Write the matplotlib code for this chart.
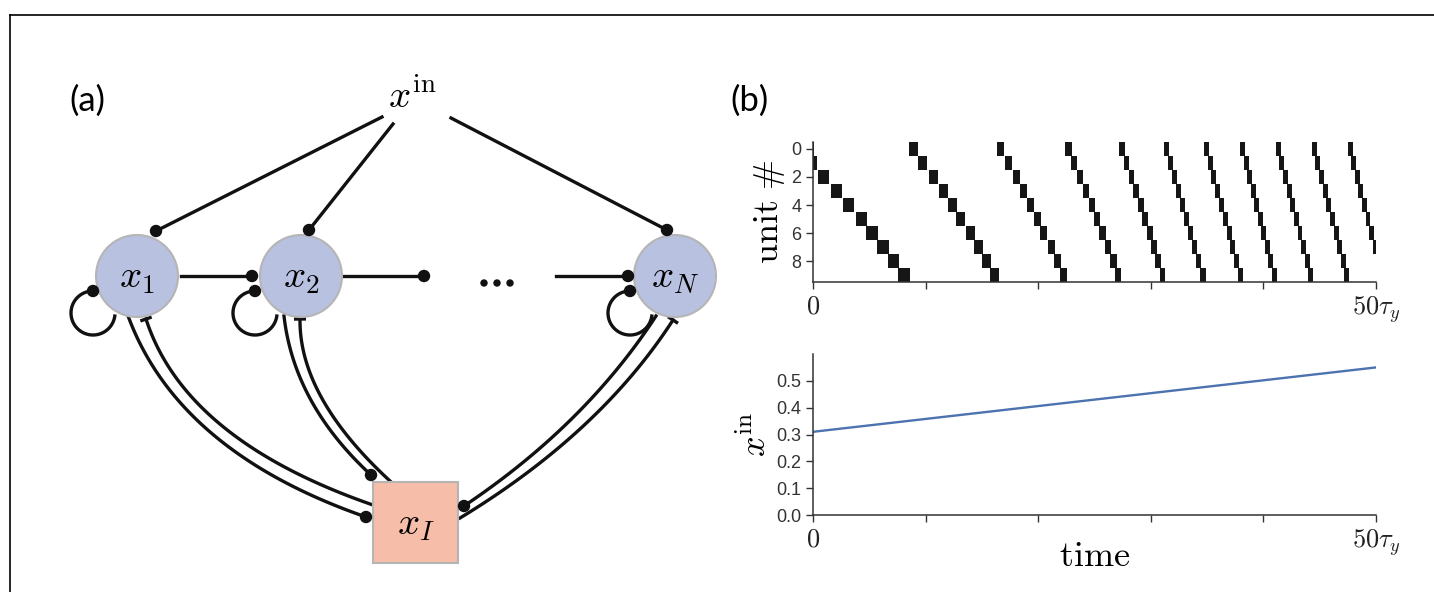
import numpy as np
import matplotlib
matplotlib.use("Agg")
import matplotlib.pyplot as plt
from matplotlib.patches import Circle, Rectangle

plt.rcParams['font.family'] = ['Liberation Sans', 'DejaVu Sans']
plt.rcParams['mathtext.fontset'] = 'cm'

# ---- panel (b) data: raster of sequential activity (onset per unit, per wave)
units = list(range(10))
wave_onsets = [
    [-0.95, -0.62, 0.44, 1.57, 2.66, 3.79, 4.74, 5.71, 6.66, 7.58],
    [8.52, 9.35, 10.29, 11.18, 12.01, 12.72, 13.55, 14.29, 15.03, 15.71],
    [16.36, 17.01, 17.72, 18.37, 19.02, 19.61, 20.20, 20.85, 21.38, 21.92],
    [22.42, 22.93, 23.46, 23.99, 24.49, 24.98, 25.44, 25.91, 26.42, 26.80],
    [27.21, 27.60, 28.04, 28.43, 28.87, 29.23, 29.67, 30.05, 30.41, 30.79],
    [31.15, 31.53, 31.89, 32.24, 32.57, 32.92, 33.28, 33.66, 34.02, 34.40],
    [34.70, 35.04, 35.38, 35.72, 36.06, 36.40, 36.73, 37.07, 37.41, 37.75],
    [37.95, 38.26, 38.57, 38.88, 39.20, 39.51, 39.82, 40.14, 40.45, 40.76],
    [41.10, 41.42, 41.74, 42.07, 42.39, 42.71, 43.03, 43.36, 43.68, 44.00],
    [44.30, 44.62, 44.94, 45.27, 45.59, 45.91, 46.23, 46.56, 46.88, 47.20],
    [47.50, 47.81, 48.13, 48.44, 48.76, 49.07, 49.39, 49.70],
]
wave_widths = [1.0, 0.8, 0.62, 0.55, 0.5, 0.46, 0.44, 0.44, 0.44, 0.44, 0.42]

# input drive over time
time_pts = [0, 10, 20, 30, 40, 50]
x_in = [0.31, 0.358, 0.406, 0.454, 0.502, 0.55]

xtick_pos = [0, 10, 20, 30, 40, 50]
xtick_lab = ['$0$', '', '', '', '', r'$50\tau_y$']

# ---- panel (a) diagram layout (pixel coordinates)
node_xy = {'x1': (137, 276), 'x2': (301, 276), 'xN': (675, 276)}
node_r = 41
node_lab = {'x1': '$x_1$', 'x2': '$x_2$', 'xN': '$x_N$'}
inh_box = (373, 482, 85, 81)

W, H = 1434, 592
fig = plt.figure(figsize=(W / 100, H / 100), dpi=100)

ax0 = fig.add_axes([0, 0, 1, 1])
ax0.set_xlim(0, W)
ax0.set_ylim(H, 0)
ax0.axis('off')

lw = 2.4
col = '#111111'


def dot(x, y, r=5.5):
    ax0.add_patch(Circle((x, y), r, color=col, zorder=5))


def bez(p0, c, p2, n=80):
    t = np.linspace(0, 1, n)[:, None]
    p0, c, p2 = map(np.array, (p0, c, p2))
    return (1 - t) ** 2 * p0 + 2 * (1 - t) * t * c + t ** 2 * p2


def tbar(p, q, half=6):
    # bar at p perpendicular to direction q->p
    d = np.array(p) - np.array(q)
    d = d / np.hypot(*d)
    n = np.array([-d[1], d[0]])
    a = np.array(p) + n * half
    b = np.array(p) - n * half
    ax0.plot([a[0], b[0]], [a[1], b[1]], color=col, lw=lw, solid_capstyle='butt')


# border
ax0.plot([10, W], [15, 15], color='k', lw=1.2)
ax0.plot([10, 10], [15, H], color='k', lw=1.2)

ax0.text(87, 101, '(a)', fontsize=25, family='Lato', ha='center', va='center')
ax0.text(750, 101, '(b)', fontsize=25, family='Lato', ha='center', va='center')

# input node
ax0.text(412, 97, r'$x^{\mathrm{in}}$', fontsize=28, ha='center', va='center')
for s, e in [((382, 117), (156, 231)), ((393, 124), (309, 230)), ((451, 118), (667, 230))]:
    ax0.plot([s[0], e[0]], [s[1], e[1]], color=col, lw=lw)
    dot(*e)

# chain
for s, e in [((181, 276), (252, 276)), ((344, 276), (424, 276)), ((556, 276), (628, 276))]:
    ax0.plot([s[0], e[0]], [s[1], e[1]], color=col, lw=lw)
    dot(*e)
for xd in [484, 497, 510]:
    ax0.add_patch(Circle((xd, 283), 3.0, color=col))

# self loops
for cx in [93, 255, 630]:
    th = np.radians(np.linspace(-90, -352, 100))
    ax0.plot(cx + 22 * np.cos(th), 313 + 22 * np.sin(th), color=col, lw=lw)
    dot(cx, 291)

# nodes
for k, (x, y) in node_xy.items():
    ax0.add_patch(Circle((x, y), node_r, facecolor='#b9c1e1', edgecolor='#b5b5b5', lw=1.5, zorder=4))
    ax0.text(x, y + 2, node_lab[k], fontsize=28, ha='center', va='center', zorder=6)

bx, by, bw, bh = inh_box
ax0.add_patch(Rectangle((bx, by), bw, bh, facecolor='#f6bda8', edgecolor='#b5b5b5', lw=1.5, zorder=4))
ax0.text(bx + bw / 2, by + bh / 2 + 2, '$x_I$', fontsize=28, ha='center', va='center', zorder=6)

# excitatory (to x_I, dot) and inhibitory (from x_I, bar) pairs
exc = [((127, 313), (176, 451), (366, 517)),
       ((284, 316), (294, 404), (371, 475)),
       ((656, 316), (585, 425), (464, 506))]
inh = [((373, 505), (185, 440), (146, 319)),
       ((390, 481), (299, 397), (300, 319)),
       ((460, 518), (600, 433), (673, 320))]
for p0, c, p2 in exc:
    pts = bez(p0, c, p2)
    ax0.plot(pts[:, 0], pts[:, 1], color=col, lw=lw)
    dot(*p2)
for p0, c, p2 in inh:
    pts = bez(p0, c, p2)
    ax0.plot(pts[:, 0], pts[:, 1], color=col, lw=lw)
    tbar(p2, pts[-4])

# ---- panel (b) axes
spine_col = '#333333'


def style(ax):
    for s in ['top', 'right']:
        ax.spines[s].set_visible(False)
    for s in ['left', 'bottom']:
        ax.spines[s].set_color(spine_col)
        ax.spines[s].set_linewidth(1.1)
    ax.tick_params(direction='out', length=5, width=1.0, color=spine_col,
                   labelcolor='#333333', labelsize=13)
    ax.set_xlim(0, 50)
    ax.set_xticks(xtick_pos)
    ax.set_xticklabels(xtick_lab, fontsize=19)
    ax.tick_params(axis='x', labelcolor='#222222', pad=4)


ax1 = fig.add_axes([813 / W, 1 - 282 / H, 563 / W, 140 / H])
for ons, w in zip(wave_onsets, wave_widths):
    ax1.barh(units[:len(ons)], [w] * len(ons), left=ons, height=1.0,
             color='#161616', linewidth=0)
ax1.set_ylim(9.5, -0.5)
ax1.set_yticks([0, 2, 4, 6, 8])
style(ax1)
ax1.set_ylabel(r'$\mathrm{unit}\ \#$', fontsize=26, labelpad=3)

ax2 = fig.add_axes([813 / W, 1 - 515 / H, 563 / W, 161 / H])
ax2.plot(time_pts, x_in, color='#4C72B0', lw=1.7)
ax2.set_ylim(0, 0.6)
ax2.set_yticks([0.0, 0.1, 0.2, 0.3, 0.4, 0.5])
ax2.set_yticklabels(['0.0', '0.1', '0.2', '0.3', '0.4', '0.5'])
style(ax2)
ax2.set_ylabel(r'$x^{\mathrm{in}}$', fontsize=26, labelpad=1)
ax2.set_xlabel(r'$\mathrm{time}$', fontsize=26, labelpad=-14)

fig.savefig('out.png', dpi=100)
